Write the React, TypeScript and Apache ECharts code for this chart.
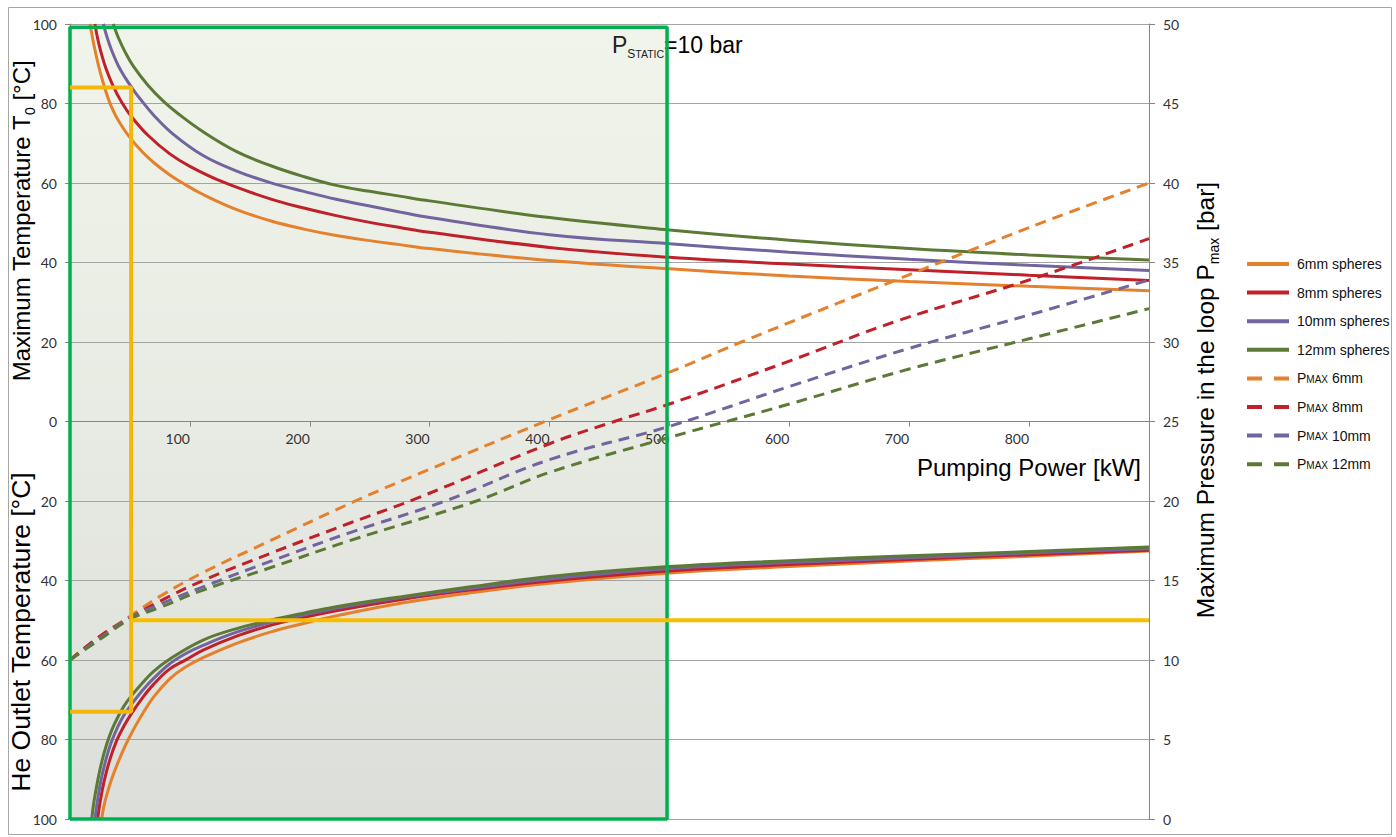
import React, { useEffect, useRef } from 'react';
import * as echarts from 'echarts';

// ---- Data (Pumping power [kW], value) ----
// Maximum temperature T0 [°C] (upper half, positive)
const maxTemp6mm = [[16.7,100],[20.3,94.2],[23.6,89.8],[27.5,85.4],[31.7,81.4],[36,78.2],[40,75.9],[48.6,72.0],[60,67.9],[70,65.1],[83,62.1],[95,59.8],[111,57.1],[139,53.3],[167,50.5],[195,48.4],[222,46.8],[250,45.5],[275,44.5],[300,43.5],[400,40.5],[500,38.4],[600,36.6],[700,35.2],[800,34.0],[900,32.9]];
const maxTemp8mm = [[20.8,100],[23,96.4],[25.6,93.2],[30,88.8],[36,84.4],[43,80.4],[51,76.8],[65,72.0],[83,67.4],[100,64.2],[128,60.2],[167,56.0],[195,53.7],[222,51.8],[250,50.1],[275,48.8],[300,47.6],[400,43.8],[500,41.3],[600,39.6],[700,38.2],[800,36.8],[900,35.5]];
const maxTemp10mm = [[27.8,100],[31,96.6],[34.7,93.4],[40.3,89.5],[46,86.5],[51.8,83.9],[58.4,81.2],[70,77],[86,72.3],[111,66.9],[139,63],[167,60.1],[195,57.9],[222,55.9],[250,54.2],[275,52.7],[300,51.3],[400,47.0],[500,44.7],[600,42.6],[700,40.8],[800,39.3],[900,38.0]];
const maxTemp12mm = [[36.1,100],[40,96.8],[45.9,93],[52.8,89.4],[65,84.6],[77.8,80.6],[90,77.5],[111,72.9],[139,67.9],[167,64.4],[195,61.6],[222,59.4],[250,57.9],[275,56.7],[300,55.5],[400,51.3],[500,48.2],[600,45.6],[700,43.5],[800,41.9],[900,40.6]];

// He outlet temperature [°C] (lower half, plotted negative)
const outlet6mm = [[26.4,-100],[28,-97.2],[30,-94.6],[34.7,-90],[40,-85.8],[48.6,-80],[60,-73.8],[70,-69.2],[83,-64.8],[95,-62.0],[111,-59.4],[139,-55.8],[167,-53.0],[195,-50.8],[222,-48.9],[278,-45.6],[334,-43.1],[400,-40.7],[500,-38.1],[600,-36.5],[700,-35.1],[800,-33.9],[900,-32.6]];
const outlet8mm = [[23,-100],[25.5,-95],[28.4,-90.6],[33,-85.3],[38.9,-80.3],[45,-76.6],[51,-73.6],[60,-69.7],[69.5,-66.2],[83,-62.3],[97,-59.9],[111,-57.5],[139,-54.0],[167,-51.3],[184,-50.0],[222,-47.6],[278,-44.7],[334,-42.4],[400,-40.1],[500,-37.6],[600,-36.0],[700,-34.7],[800,-33.5],[900,-32.4]];
const outlet10mm = [[20.8,-100],[23,-95.2],[25.6,-90.6],[30,-85],[34.2,-80.9],[40,-76.7],[45,-73.9],[51,-71.3],[60,-67.8],[69.5,-64.7],[83,-61.0],[97,-58.3],[111,-56.3],[139,-53.0],[167,-50.6],[222,-47.0],[278,-44.2],[334,-42.0],[400,-39.6],[500,-37.0],[600,-35.5],[700,-34.3],[800,-33.1],[900,-32.0]];
const outlet12mm = [[18.1,-100],[20,-95.6],[22.8,-90.8],[26.5,-85.6],[30.6,-81.2],[35,-77.5],[40,-74.3],[45,-71.6],[51,-69.1],[60,-65.9],[69.5,-62.9],[83,-59.8],[111,-55.0],[139,-52.1],[167,-50.0],[195,-48.2],[222,-46.6],[278,-44.0],[334,-41.6],[400,-39.0],[500,-36.5],[600,-35.0],[700,-33.8],[800,-32.7],[900,-31.6]];

// Maximum pressure in the loop Pmax [bar] (right axis)
const pmax6mm = [[0,10],[25,11.5],[51,12.8],[75,14.0],[111,15.5],[167,17.5],[241,20.1],[300,22.0],[396,25.0],[500,28.1],[560,30.0],[689,33.9],[800,37.2],[900,40.0]];
const pmax8mm = [[0,10],[25,11.5],[51,12.7],[75,13.7],[111,15.0],[167,16.7],[233,18.6],[287,20.1],[400,23.6],[454,25],[500,26.1],[600,28.8],[689,31.3],[800,33.9],[900,36.5]];
const pmax10mm = [[0,10],[25,11.4],[51,12.7],[75,13.5],[111,14.6],[167,16.2],[233,18.0],[313,20.0],[400,22.6],[500,24.7],[600,27.2],[700,29.6],[800,31.7],[900,33.9]];
const pmax12mm = [[0,10],[25,11.3],[51,12.6],[75,13.3],[111,14.4],[167,15.8],[233,17.5],[339,20.0],[400,21.8],[500,24.0],[600,26.1],[700,28.3],[800,30.2],[900,32.1]];

// Annotations
const yellowTempBox = [[0,84],[51,84],[51,-73],[0,-73]];
const yellowPressure = [[51,12.5],[900,12.5]];
const greenZone = [[0,-100],[0,99.2],[498,99.2],[498,-100],[0,-100]];

const legendNames = ['6mm spheres','8mm spheres','10mm spheres','12mm spheres','Pmax 6mm','Pmax 8mm','Pmax 10mm','Pmax 12mm'];
const colors = ['#E5802C','#C0202A','#72649E','#5C7A36'];

const FONT = '"Liberation Sans", Arial, sans-serif';
const NUMFONT = 'Lato, "Liberation Sans", sans-serif';

function solid(name: string, data: number[][], color: string) {
  return {
    type: 'line', name, data, xAxisIndex: 0, yAxisIndex: 0, symbol: 'none', showSymbol: false,
    smooth: 0.4,
    lineStyle: { color, width: 3 }, itemStyle: { color }, z: 3,
  };
}
function dashed(name: string, data: number[][], color: string) {
  return {
    type: 'line', name, data, xAxisIndex: 0, yAxisIndex: 1, symbol: 'none', showSymbol: false,
    smooth: 0.4,
    lineStyle: { color, width: 3, type: [11, 7] }, itemStyle: { color }, z: 3,
  };
}

const dashIcon = 'path://M0 0H15V4H0Z M27 0H42V4H27Z';

function buildOption() {
  const series: any[] = [
    {
      type: 'line', name: 'zone', data: greenZone, xAxisIndex: 0, yAxisIndex: 0, symbol: 'none', clip: false,
      lineStyle: { color: '#00B050', width: 3.5 }, itemStyle: { color: '#00B050' }, z: 4, silent: true,
      markArea: {
        silent: true, z: -1,
        itemStyle: {
          color: { type: 'linear', x: 0, y: 0, x2: 0, y2: 1, colorStops: [
            { offset: 0, color: '#F0F4EA' }, { offset: 0.5, color: '#E8EBE3' }, { offset: 1, color: '#DCDED9' } ] },
          borderWidth: 0,
        },
        data: [[{ coord: [0, -100] }, { coord: [498, 99.2] }]],
      },
    },
    solid('6mm spheres', maxTemp6mm, colors[0]),
    solid('8mm spheres', maxTemp8mm, colors[1]),
    solid('10mm spheres', maxTemp10mm, colors[2]),
    solid('12mm spheres', maxTemp12mm, colors[3]),
    solid('6mm spheres', outlet6mm, colors[0]),
    solid('8mm spheres', outlet8mm, colors[1]),
    solid('10mm spheres', outlet10mm, colors[2]),
    solid('12mm spheres', outlet12mm, colors[3]),
    dashed('Pmax 6mm', pmax6mm, colors[0]),
    dashed('Pmax 8mm', pmax8mm, colors[1]),
    dashed('Pmax 10mm', pmax10mm, colors[2]),
    dashed('Pmax 12mm', pmax12mm, colors[3]),
    {
      type: 'line', name: 'markTemp', data: yellowTempBox, xAxisIndex: 0, yAxisIndex: 0, symbol: 'none', clip: false,
      lineStyle: { color: '#F2B70A', width: 4 }, itemStyle: { color: '#F2B70A' }, z: 5, silent: true,
    },
    {
      type: 'line', name: 'markPressure', data: yellowPressure, xAxisIndex: 0, yAxisIndex: 1, symbol: 'none', clip: false,
      lineStyle: { color: '#F7BE00', width: 4 }, itemStyle: { color: '#F7BE00' }, z: 5, silent: true,
    },
  ];

  const axisGrey = '#868686';
  return {
    animation: false,
    backgroundColor: '#ffffff',
    grid: [
      { left: 70, right: 247, top: 24, bottom: 18, containLabel: false },
      // upper half only: its bottom edge carries the pumping-power axis at T = 0
      { left: 70, right: 247, top: 24, bottom: 415.5, containLabel: false },
    ],
    xAxis: [
      { type: 'value', gridIndex: 0, min: 0, max: 900, interval: 100, show: false },
      {
        type: 'value', gridIndex: 1, min: 0, max: 900, interval: 100, position: 'bottom',
        axisLine: { show: true, onZero: false, lineStyle: { color: axisGrey, width: 1 } },
        axisTick: { show: true, length: 5, lineStyle: { color: axisGrey } },
        axisLabel: {
          formatter: (v: number) => (v === 0 || v === 900 ? '' : String(v)),
          align: 'right', margin: 10, fontSize: 14, color: '#333', fontFamily: NUMFONT,
        },
        splitLine: { show: false },
      },
    ],
    yAxis: [
      {
        type: 'value', gridIndex: 0, min: -100, max: 100, interval: 20, position: 'left',
        axisLine: { show: true, onZero: false, lineStyle: { color: axisGrey } },
        axisTick: { show: true, length: 5, lineStyle: { color: axisGrey } },
        axisLabel: { formatter: (v: number) => String(Math.abs(v)), margin: 13, fontSize: 14, color: '#333', fontFamily: NUMFONT },
        splitLine: { show: true, lineStyle: { color: '#A3A3A3', width: 1 } },
      },
      {
        type: 'value', gridIndex: 0, min: 0, max: 50, interval: 5, position: 'right',
        axisLine: { show: true, onZero: false, lineStyle: { color: axisGrey } },
        axisTick: { show: true, length: 6, lineStyle: { color: axisGrey } },
        axisLabel: { margin: 14, fontSize: 14, color: '#333', fontFamily: NUMFONT },
        splitLine: { show: false },
      },
      { type: 'value', gridIndex: 1, min: 0, max: 1, show: false },
    ],
    legend: {
      orient: 'vertical', left: 1242, top: 251, itemWidth: 42, itemHeight: 4, itemGap: 12.6,
      selectedMode: false,
      data: legendNames.map((n, i) => ({ name: n, icon: i < 4 ? 'rect' : dashIcon })),
      formatter: (name: string) => (name.indexOf('Pmax') === 0 ? '{p|P}{s|MAX}{t|' + name.slice(4) + '}' : name),
      textStyle: {
        fontFamily: FONT, fontSize: 14, color: '#111', lineHeight: 16, padding: [0, 0, 0, 3],
        rich: {
          p: { fontFamily: FONT, fontSize: 14, lineHeight: 16, color: '#111' },
          s: { fontFamily: FONT, fontSize: 10, lineHeight: 10, verticalAlign: 'bottom', color: '#111', padding: [0, 0, 2, 0] },
          t: { fontFamily: FONT, fontSize: 14, lineHeight: 16, color: '#111' },
        },
      },
    },
    graphic: [
      { type: 'rect', shape: { x: 8.5, y: 7.5, width: 1383, height: 827 }, style: { fill: 'none', stroke: '#A6A6A6', lineWidth: 1 }, silent: true, z: -10 },
      {
        type: 'text', x: 21, y: 221, rotation: Math.PI / 2, silent: true,
        style: {
          text: '{a|Maximum Temperature T}{b|0}{a| [°C]}', align: 'center', verticalAlign: 'middle',
          rich: {
            a: { fontFamily: FONT, fontSize: 24, lineHeight: 32, fill: '#000' },
            b: { fontFamily: FONT, fontSize: 14, lineHeight: 14, verticalAlign: 'bottom', fill: '#000' },
          },
        },
      },
      {
        type: 'text', x: 21, y: 632, rotation: Math.PI / 2, silent: true,
        style: { text: 'He Outlet Temperature [°C]', align: 'center', verticalAlign: 'middle', fontFamily: FONT, fontSize: 26.5, fill: '#000' },
      },
      {
        type: 'text', x: 1205, y: 400, rotation: Math.PI / 2, silent: true,
        style: {
          text: '{a|Maximum Pressure in the loop P}{b|max}{a| [bar]}', align: 'center', verticalAlign: 'middle',
          rich: {
            a: { fontFamily: FONT, fontSize: 24.5, lineHeight: 32, fill: '#000' },
            b: { fontFamily: FONT, fontSize: 14, lineHeight: 14, verticalAlign: 'bottom', fill: '#000' },
          },
        },
      },
      {
        type: 'text', x: 1141, y: 467, silent: true,
        style: { text: 'Pumping Power [kW]', align: 'right', verticalAlign: 'middle', fontFamily: FONT, fontSize: 24, fill: '#000' },
      },
      {
        type: 'text', x: 612, y: 45, silent: true,
        style: {
          text: '{p|P}{s1|S}{s2|TATIC}{e|=10 bar}', align: 'left', verticalAlign: 'middle',
          rich: {
            p: { fontFamily: FONT, fontSize: 23, lineHeight: 30, fill: '#222' },
            s1: { fontFamily: FONT, fontSize: 12, lineHeight: 12, verticalAlign: 'bottom', fill: '#222' },
            s2: { fontFamily: FONT, fontSize: 10.5, lineHeight: 11, verticalAlign: 'bottom', fill: '#222', padding: [0, 0, 1, 0] },
            e: { fontFamily: FONT, fontSize: 23, lineHeight: 30, fill: '#000' },
          },
        },
      },
    ],
    series,
  };
}

export default function App() {
  const ref = useRef<HTMLDivElement>(null);
  useEffect(() => {
    if (!ref.current) return;
    const chart = echarts.init(ref.current, null, { renderer: 'svg' });
    chart.setOption(buildOption() as any);
    return () => chart.dispose();
  }, []);
  return (
    <div
      ref={ref}
      style={{ position: 'absolute', left: 0, top: 0, width: 1396, height: 837, background: '#ffffff' }}
    />
  );
}
